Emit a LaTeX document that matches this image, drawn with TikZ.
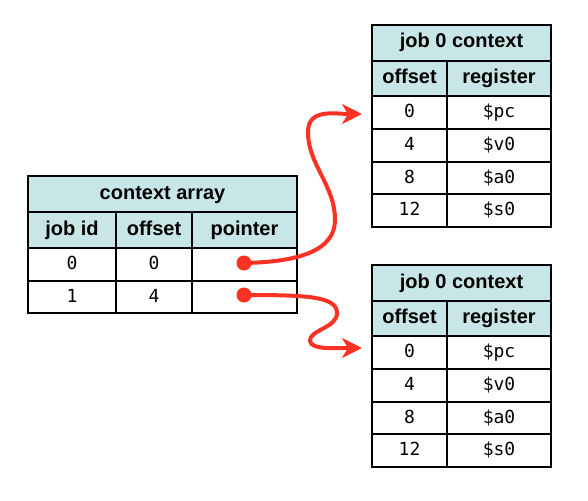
\documentclass[tikz,border=0pt]{standalone}
\usepackage{fontspec}
\setmainfont{Liberation Sans}
\setmonofont{DejaVu Sans Mono}
\usetikzlibrary{arrows.meta}
\definecolor{hdr}{RGB}{200,230,230}
\definecolor{ptr}{RGB}{250,50,35}
\tikzset{
  cellbase/.style={draw=black, line width=2.4pt, inner sep=0pt, outer sep=0pt, anchor=center},
  hcell/.style={cellbase, fill=hdr, font=\fontsize{20}{23}\selectfont\bfseries, text height=14.5pt, text depth=4.5pt},
  dcell/.style={cellbase, fill=white, font=\fontsize{18}{21}\selectfont\ttfamily, text height=13.5pt, text depth=3.5pt},
  dot/.style={circle, fill=ptr, inner sep=0pt, minimum size=15pt},
  ptrline/.style={draw=ptr, line width=4pt, -{Stealth[length=20pt, width=20pt, inset=6pt]}},
}
\begin{document}
\begin{tikzpicture}[x=1pt,y=-1pt]
\useasboundingbox (0,0) rectangle (588,500);
% ---------- context array ----------
\node[hcell, minimum width=269pt, minimum height=36pt] (ca) at (162.5,194) {context array};
\node[hcell, minimum width=88pt, minimum height=36pt] (cajob) at (72,230) {job id};
\node[hcell, minimum width=76pt, minimum height=36pt] (caoff) at (154,230) {offset};
\node[hcell, minimum width=105pt, minimum height=36pt] (captr) at (244.5,230) {pointer};
\node[dcell, minimum width=88pt, minimum height=33pt] (r0a) at (72,264.5) {0};
\node[dcell, minimum width=76pt, minimum height=33pt] (r0b) at (154,264.5) {0};
\node[dcell, minimum width=105pt, minimum height=33pt] (r0c) at (244.5,264.5) {};
\node[dcell, minimum width=88pt, minimum height=32pt] (r1a) at (72,297) {1};
\node[dcell, minimum width=76pt, minimum height=32pt] (r1b) at (154,297) {4};
\node[dcell, minimum width=105pt, minimum height=32pt] (r1c) at (244.5,297) {};
% ---------- job context tables ----------
\foreach \t/\dy in {a/0, b/240}{
  \node[hcell, minimum width=179pt, minimum height=36pt] (\t title) at (461.5,43+\dy) {job 0 context};
  \node[hcell, minimum width=75pt, minimum height=35pt] (\t hoff) at (409.5,78.5+\dy) {offset};
  \node[hcell, minimum width=104pt, minimum height=35pt] (\t hreg) at (499,78.5+\dy) {register};
  \foreach \i/\y/\h/\o/\r in {1/112.5/33/0/\$pc, 2/145.5/33/4/\$v0, 3/178/32/8/\$a0, 4/210.5/33/12/\$s0}{
    \node[dcell, minimum width=75pt, minimum height=\h pt] (\t o\i) at (409.5,\y+\dy) {\o};
    \node[dcell, minimum width=104pt, minimum height=\h pt] (\t r\i) at (499,\y+\dy) {\r};
  }
}
% ---------- pointers ----------
\node[dot] (d0) at (244,263) {};
\node[dot] (d1) at (244,295) {};
\coordinate (t0) at (362,114);
\coordinate (t1) at (362,348);
\draw[ptrline] (d0.center) .. controls (300,262) and (335,250) .. (335,220)
  .. controls (335,185) and (308,165) .. (308,132)
  .. controls (308,108) and (335,114) .. (t0);
\draw[ptrline] (d1.center) .. controls (305,295) and (337,296) .. (337,313)
  .. controls (337,328) and (309,330) .. (310,341)
  .. controls (311,350) and (335,348) .. (t1);
\end{tikzpicture}
\end{document}
